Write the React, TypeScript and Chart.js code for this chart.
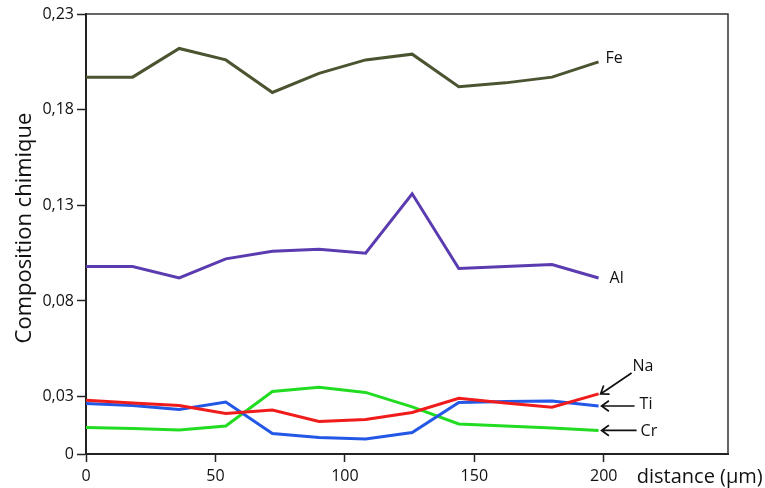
import React, { useEffect, useRef } from "react";
import { Chart, registerables } from "chart.js";

Chart.register(...registerables);

// ---- data ----
const distances = [0, 18, 36, 54, 72, 90, 108, 126, 144, 162, 180, 198];
const feValues = [0.197, 0.197, 0.212, 0.206, 0.189, 0.199, 0.206, 0.209, 0.192, 0.194, 0.197, 0.205];
const alValues = [0.098, 0.098, 0.092, 0.102, 0.106, 0.107, 0.105, 0.136, 0.097, 0.098, 0.099, 0.092];
const naValues = [0.0281, 0.0267, 0.0254, 0.0212, 0.023, 0.017, 0.018, 0.0217, 0.0291, 0.0267, 0.0245, 0.0314];
const tiValues = [0.0264, 0.0254, 0.0233, 0.0272, 0.0107, 0.0086, 0.0078, 0.0112, 0.0269, 0.0274, 0.0277, 0.0251];
const crValues = [0.0139, 0.0133, 0.0126, 0.0146, 0.0327, 0.0349, 0.0322, 0.0246, 0.0157, 0.0146, 0.0136, 0.0123];
const seriesNames = ["Fe", "Al", "Na", "Ti", "Cr"];
const xTickValues = [0, 50, 100, 150, 200];
const yTickValues = [0, 0.03, 0.08, 0.13, 0.18, 0.23];
const yTickLabels = ["0", "0,03", "0,08", "0,13", "0,18", "0,23"];
const xAxisTitle = "distance (µm)";
const yAxisTitle = "Composition chimique";

const seriesValues = [feValues, alValues, naValues, tiValues, crValues];
const seriesColors = ["#4b5430", "#5a3bb0", "#f01c1c", "#2358e6", "#22dc22"];

type Ann = { kind: "text"; dx: number; dy: number } | { kind: "arrow"; tip: [number, number]; tail: [number, number]; text: [number, number] };
const annotations: Ann[] = [
  { kind: "text", dx: 7, dy: -3 },
  { kind: "text", dx: 11, dy: 0 },
  { kind: "arrow", tip: [2, 0], tail: [33, -21], text: [34, -27] },
  { kind: "arrow", tip: [3, 0], tail: [36, 0], text: [41, -2] },
  { kind: "arrow", tip: [3, 0], tail: [38, 0], text: [42, 1] },
];

const FONT = "'Open Sans', 'DejaVu Sans', sans-serif";
const TEXT = "#111";

const decorPlugin = {
  id: "decor",
  afterDatasetsDraw(chart: any) {
    const { ctx, chartArea } = chart;
    ctx.save();
    ctx.strokeStyle = "#333";
    ctx.lineWidth = 1.5;
    ctx.beginPath();
    ctx.moveTo(chartArea.left, chartArea.top);
    ctx.lineTo(chartArea.right, chartArea.top);
    ctx.lineTo(chartArea.right, chartArea.bottom);
    ctx.stroke();

    ctx.fillStyle = TEXT;
    ctx.font = `16px ${FONT}`;
    ctx.textBaseline = "middle";
    ctx.textAlign = "left";
    annotations.forEach((a, i) => {
      const meta = chart.getDatasetMeta(i);
      const pt = meta.data[meta.data.length - 1];
      const px = pt.x;
      const py = pt.y;
      if (a.kind === "text") {
        ctx.fillText(seriesNames[i], px + a.dx, py + a.dy);
      } else {
        const tx = px + a.tip[0];
        const ty = py + a.tip[1];
        const sx = px + a.tail[0];
        const sy = py + a.tail[1];
        ctx.strokeStyle = "#111";
        ctx.lineWidth = 1.7;
        ctx.beginPath();
        ctx.moveTo(sx, sy);
        ctx.lineTo(tx, ty);
        const ang = Math.atan2(sy - ty, sx - tx);
        const len = 9;
        const spread = 0.62;
        ctx.moveTo(tx + len * Math.cos(ang + spread), ty + len * Math.sin(ang + spread));
        ctx.lineTo(tx, ty);
        ctx.lineTo(tx + len * Math.cos(ang - spread), ty + len * Math.sin(ang - spread));
        ctx.stroke();
        ctx.fillText(seriesNames[i], px + a.text[0], py + a.text[1]);
      }
    });

    const xs = chart.scales.x;
    ctx.font = `20px ${FONT}`;
    ctx.fillStyle = TEXT;
    ctx.textAlign = "left";
    ctx.fillText(xAxisTitle, xs.getPixelForValue(200) + 33, chartArea.bottom + 23);

    ctx.translate(25, (chartArea.top + chartArea.bottom) / 2 - 6);
    ctx.rotate(-Math.PI / 2);
    ctx.textAlign = "center";
    ctx.font = `22px ${FONT}`;
    ctx.fillText(yAxisTitle, 0, 0);
    ctx.restore();
  },
};

export default function App() {
  const ref = useRef<HTMLCanvasElement | null>(null);
  useEffect(() => {
    if (!ref.current) return;
    const chart = new Chart(ref.current, {
      type: "line",
      data: {
        datasets: seriesNames.map((name, i) => ({
          label: name,
          data: distances.map((x, j) => ({ x, y: seriesValues[i][j] })),
          borderColor: seriesColors[i],
          backgroundColor: seriesColors[i],
          borderWidth: 3,
          pointRadius: 0,
          tension: 0,
          fill: false,
        })),
      },
      options: {
        animation: false,
        responsive: false,
        devicePixelRatio: 1,
        layout: { padding: { left: 0, top: 14, right: 37, bottom: 0 } },
        plugins: { legend: { display: false }, tooltip: { enabled: false }, title: { display: false } },
        scales: {
          x: {
            type: "linear",
            min: 0,
            max: 248,
            afterBuildTicks: (axis: any) => {
              axis.ticks = xTickValues.map((v) => ({ value: v }));
            },
            afterFit: (axis: any) => {
              axis.height = 34;
            },
            grid: { display: true, drawOnChartArea: false, drawTicks: true, tickLength: 8, color: "#222", tickWidth: 1.5 },
            border: { display: true, color: "#222", width: 2 },
            ticks: { color: TEXT, font: { family: FONT, size: 16 }, padding: 5, maxRotation: 0, autoSkip: false },
          },
          y: {
            type: "linear",
            min: 0,
            max: 0.23,
            afterBuildTicks: (axis: any) => {
              axis.ticks = yTickValues.map((v) => ({ value: v }));
            },
            afterFit: (axis: any) => {
              axis.width = 86;
            },
            grid: { display: true, drawOnChartArea: false, drawTicks: true, tickLength: 9, color: "#222", tickWidth: 1.5 },
            border: { display: true, color: "#222", width: 2 },
            ticks: {
              color: TEXT,
              font: { family: FONT, size: 16 },
              padding: 3,
              autoSkip: false,
              callback: (v: any) => {
                const idx = yTickValues.findIndex((t) => Math.abs(t - Number(v)) < 1e-9);
                return idx >= 0 ? yTickLabels[idx] : "";
              },
            },
          },
        },
      },
      plugins: [decorPlugin],
    });
    return () => chart.destroy();
  }, []);
  return (
    <div style={{ position: "fixed", left: 0, top: 0, width: 765, height: 488, background: "#fff" }}>
      <canvas ref={ref} width={765} height={488} style={{ width: 765, height: 488 }} />
    </div>
  );
}
